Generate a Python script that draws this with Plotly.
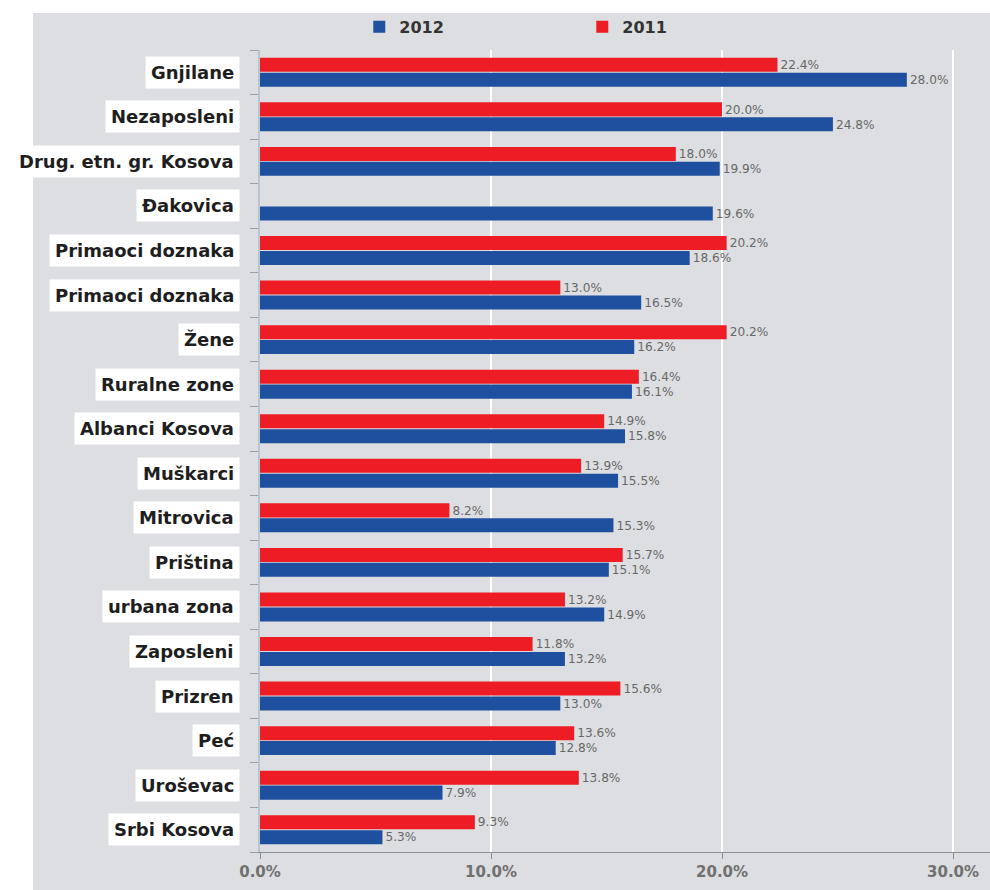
import plotly.graph_objects as go

categories = ["Gnjilane", "Nezaposleni", "Drug. etn. gr. Kosova", "Đakovica",
              "Primaoci doznaka", "Primaoci doznaka ", "Žene", "Ruralne zone",
              "Albanci Kosova", "Muškarci", "Mitrovica", "Priština", "urbana zona",
              "Zaposleni", "Prizren", "Peć", "Uroševac", "Srbi Kosova"]
values_2012 = [28.0, 24.8, 19.9, 19.6, 18.6, 16.5, 16.2, 16.1, 15.8, 15.5,
               15.3, 15.1, 14.9, 13.2, 13.0, 12.8, 7.9, 5.3]
values_2011 = [22.4, 20.0, 18.0, None, 20.2, 13.0, 20.2, 16.4, 14.9, 13.9,
               8.2, 15.7, 13.2, 11.8, 15.6, 13.6, 13.8, 9.3]
x_ticks = [0, 10, 20, 30]
x_tick_labels = ["0.0%", "10.0%", "20.0%", "30.0%"]

BLUE = "#1f4f9f"
RED = "#ee1c25"
GREY_BG = "#dcdee1"

# reverse so the first category sits at the top
cats_r = categories[::-1]
v12_r = values_2012[::-1]
v11_r = values_2011[::-1]

label_font = dict(size=13, color="#686868", family="DejaVu Sans, Arial")

fig = go.Figure()
fig.add_trace(go.Bar(
    name="2012", y=cats_r, x=v12_r, orientation="h",
    marker=dict(color=BLUE, line=dict(width=0)),
    text=[f"{v:.1f}%" for v in v12_r], textposition="outside",
    textfont=label_font, cliponaxis=False,
))
fig.add_trace(go.Bar(
    name="2011", y=cats_r, x=v11_r, orientation="h",
    marker=dict(color=RED, line=dict(width=0)),
    text=[f"{v:.1f}%" if v is not None else "" for v in v11_r], textposition="outside",
    textfont=label_font, cliponaxis=False,
))

annotations = []
for c in categories:
    annotations.append(dict(
        x=-0.028, xref="paper", y=c, yref="y",
        text="<b>" + c.strip() + "</b>", showarrow=False,
        xanchor="right", yanchor="middle",
        font=dict(size=18, color="#1e1e1e", family="DejaVu Sans, Arial"),
        bgcolor="white", borderpad=5,
    ))

# white strips outside the grey panel (top and left)
shapes = [
    dict(type="rect", xref="paper", yref="paper", x0=-1, x1=2, y0=1.0 + 37/802, y1=1.2,
         fillcolor="white", line=dict(width=0), layer="below"),
    dict(type="rect", xref="paper", yref="paper", x0=-1, x1=-227/730, y0=-1, y1=2,
         fillcolor="white", line=dict(width=0), layer="below"),
]

fig.update_layout(
    width=990, height=890,
    margin=dict(l=260, r=0, t=50, b=38),
    paper_bgcolor=GREY_BG, plot_bgcolor=GREY_BG,
    barmode="group", bargap=0.33, bargroupgap=0.06,
    showlegend=True,
    legend=dict(orientation="h", x=0.136, y=1.029, xanchor="left", yanchor="middle",
                entrywidth=178, entrywidthmode="pixels", traceorder="normal",
                font=dict(size=16, color="#333333", family="DejaVu Sans, Arial", weight="bold"),
                bgcolor="rgba(0,0,0,0)"),
    annotations=annotations,
    shapes=shapes,
    font=dict(family="Liberation Sans, Arial"),
)
fig.update_xaxes(
    range=[0, 31.6], tickvals=x_ticks, ticktext=x_tick_labels,
    showgrid=True, gridcolor="white", gridwidth=2, zeroline=False,
    showline=True, linecolor="#8a8f96", linewidth=1,
    ticks="outside", ticklen=6, tickcolor="#8a8f96",
    tickfont=dict(size=15, color="#707070", family="DejaVu Sans, Arial", weight="bold"),
)
fig.update_yaxes(
    type="category", categoryorder="array", categoryarray=cats_r,
    showticklabels=False, showgrid=False, zeroline=False,
    showline=True, linecolor="#b7c4d2", linewidth=2,
    ticks="outside", tickson="boundaries", ticklen=8, tickcolor="#9aa0a6",
)

fig.write_html("out.html",
               config={"displayModeBar": False},
               post_script="document.body.style.margin='0';document.body.style.overflow='hidden';")
